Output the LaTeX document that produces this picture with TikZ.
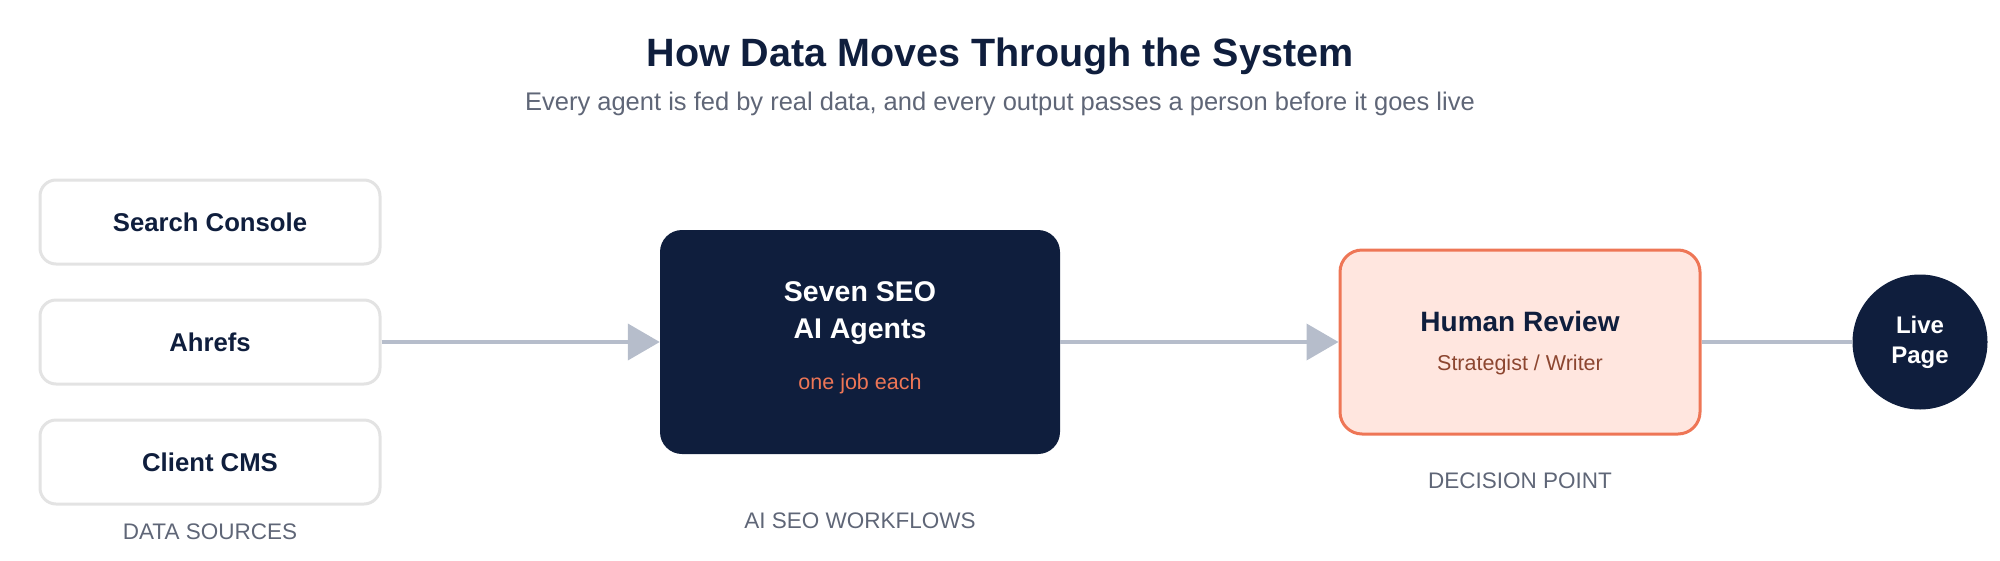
\documentclass[tikz,border=0pt]{standalone}
\usepackage{fontspec}
\setmainfont{Liberation Sans}
\usetikzlibrary{arrows.meta}

\definecolor{navy}{HTML}{0F1E3D}
\definecolor{slate}{HTML}{5F6677}
\definecolor{wire}{HTML}{B6BDCB}
\definecolor{coral}{HTML}{EE7656}
\definecolor{blush}{HTML}{FFE6DF}
\definecolor{rust}{HTML}{8C4630}
\definecolor{edge}{HTML}{E3E3E3}

\tikzset{
  source/.style={draw=edge, line width=3pt, fill=white, rounded corners=16pt,
    minimum width=340pt, minimum height=84pt, text=navy,
    font=\fontsize{25.7}{30}\selectfont\bfseries},
  caption/.style={text=slate, font=\fontsize{22.5}{26}\selectfont},
  flow/.style={draw=wire, line width=4pt, -{Triangle[length=32pt,width=36pt]}}
}

\begin{document}
\begin{tikzpicture}[x=1pt,y=-1pt]
\useasboundingbox (0,0) rectangle (2000,560);
\node[name=title, text=navy, font=\fontsize{39.5}{44}\selectfont\bfseries] at (1000,56) {How Data Moves Through the System};
\node[name=subtitle, text=slate, font=\fontsize{25.5}{30}\selectfont] at (1000,104) {Every agent is fed by real data, and every output passes a person before it goes live};
\foreach \y/\name/\label in {222/search/Search Console, 342/ahrefs/Ahrefs, 462/cms/Client CMS}
  \node[name=\name, source] at (210,\y) {\label};
\node[name=agents, fill=navy, rounded corners=22pt, minimum width=400pt, minimum height=224pt] at (860,342) {};
\node[name=agentsline1, text=white, font=\fontsize{28.5}{32}\selectfont\bfseries] at (860,292) {Seven SEO};
\node[name=agentsline2, text=white, font=\fontsize{28.5}{32}\selectfont\bfseries] at (860,332) {AI Agents};
\node[name=agentsnote, text=coral, font=\fontsize{21.5}{25}\selectfont] at (860,384) {one job each};
\node[name=review, draw=coral, line width=3pt, fill=blush, rounded corners=22pt, minimum width=360pt, minimum height=184pt] at (1520,342) {};
\node[name=reviewtitle, text=navy, font=\fontsize{28}{32}\selectfont\bfseries] at (1520,321) {Human Review};
\node[name=reviewnote, text=rust, font=\fontsize{21.5}{25}\selectfont] at (1520,365) {Strategist / Writer};
\node[name=live, circle, fill=navy, minimum size=135pt, inner sep=0pt, text=white, align=center, font=\fontsize{24}{30}\selectfont\bfseries] at (1920,342) {Live\\Page};
\node[name=sourcescap, caption] at (210,532) {DATA SOURCES};
\node[name=agentscap, caption] at (860,521) {AI SEO WORKFLOWS};
\node[name=reviewcap, caption] at (1520,481) {DECISION POINT};
\draw[flow] (ahrefs) -- (agents);
\draw[flow] (agents) -- (review);
\draw[draw=wire, line width=4pt] (review) -- (live);
\end{tikzpicture}
\end{document}
